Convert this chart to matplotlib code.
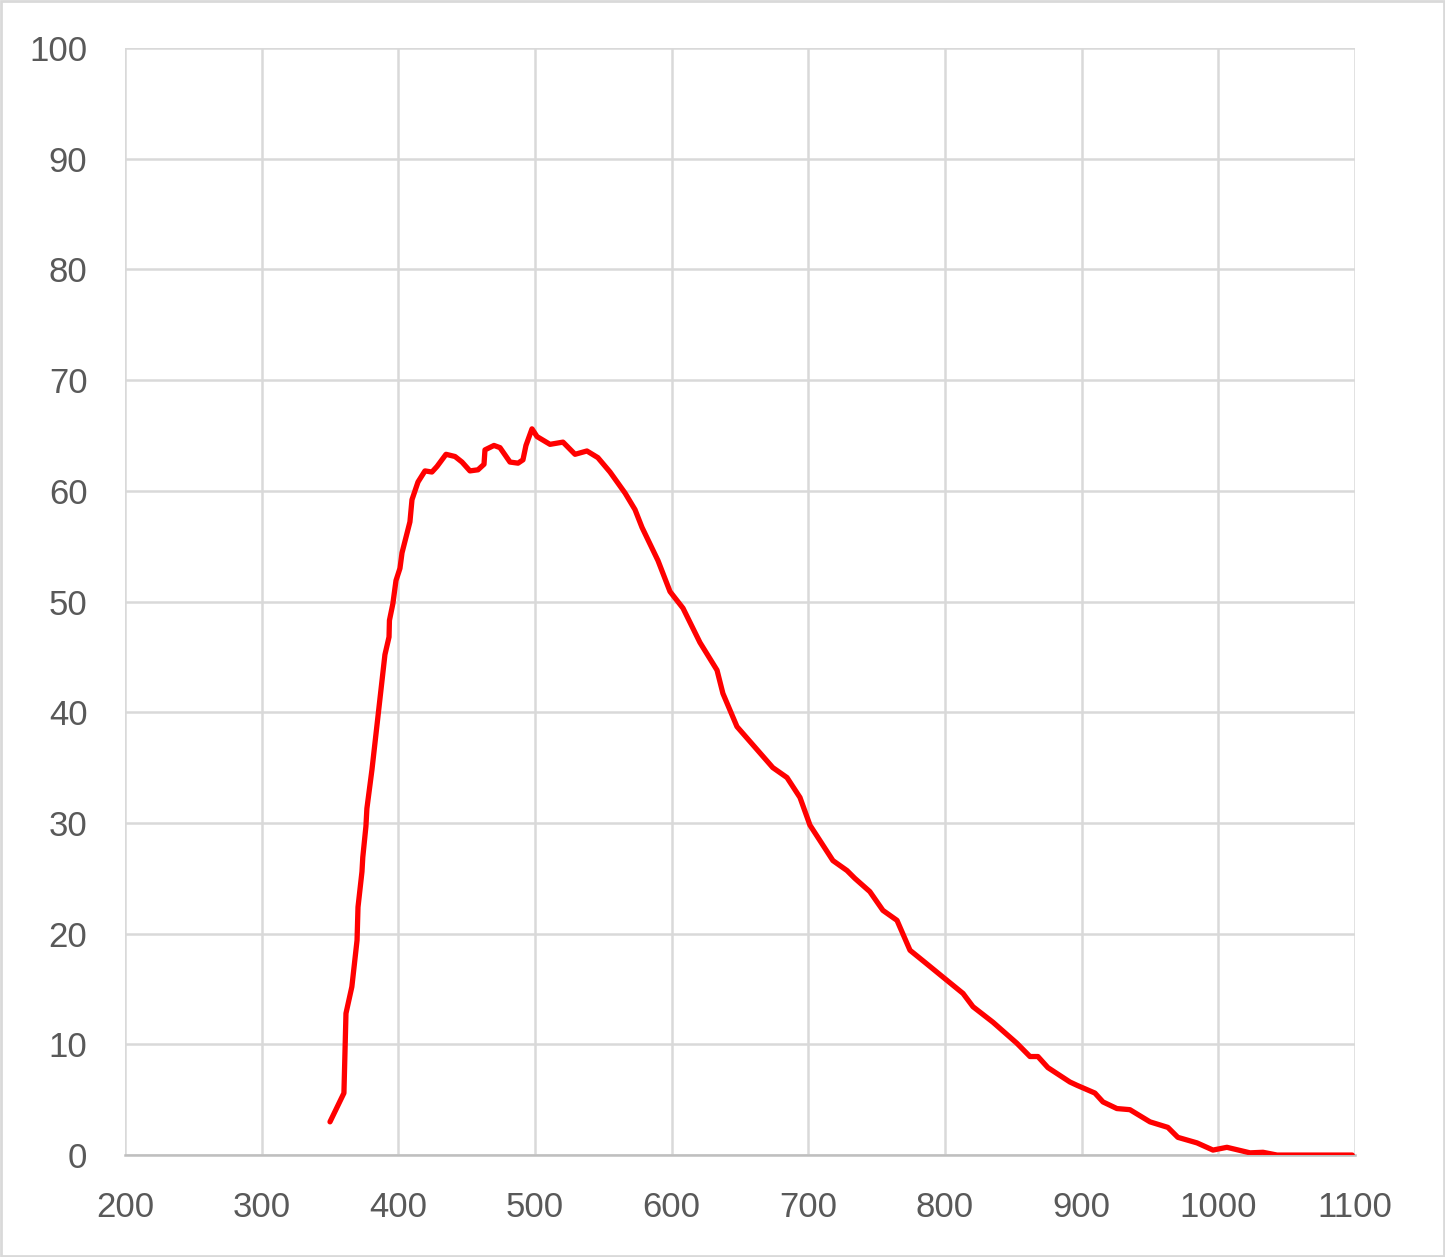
import matplotlib.pyplot as plt
from matplotlib.patches import Rectangle

# wavelength (nm) and response (%)
wavelength = [350, 360.2, 361.7, 366, 369.8, 370.5, 373.4, 374, 376.3, 377, 380.7,
              390.2, 393.2, 393.5, 396, 398.3, 401.2, 402.7, 408.5, 410, 414.4,
              419.5, 424.6, 428.3, 434.9, 441.5, 446.6, 452.4, 458.3, 462.7, 463.4,
              470, 474.4, 481.7, 487.6, 491.2, 493.4, 497.8, 501.5, 511, 520.5,
              529.3, 538, 546, 554.9, 565.9, 573.2, 578.3, 590, 598.8, 608.3,
              620.7, 633.2, 637.5, 647.8, 674, 684.4, 693.9, 701.2, 718, 728.3,
              734, 745, 754.6, 764.9, 774.4, 785.4, 796.3, 813.2, 820.5, 835.1,
              852.6, 862.2, 868, 875.3, 891.4, 896.6, 909.7, 915.6, 925.8, 935.3,
              950, 963.1, 970.4, 984.4, 996.1, 1006.3, 1023.2, 1032.7, 1043, 1052,
              1060, 1098]
response = [3.0, 5.6, 12.8, 15.2, 19.4, 22.4, 25.6, 26.9, 29.7, 31.3, 34.8,
            45.2, 46.8, 48.3, 49.8, 51.9, 53.0, 54.4, 57.2, 59.2, 60.8,
            61.8, 61.7, 62.2, 63.3, 63.1, 62.6, 61.8, 61.9, 62.4, 63.7,
            64.1, 63.9, 62.6, 62.5, 62.8, 64.1, 65.6, 64.9, 64.2, 64.4,
            63.3, 63.6, 63.0, 61.7, 59.8, 58.3, 56.7, 53.7, 50.9, 49.4,
            46.3, 43.8, 41.7, 38.7, 35.0, 34.1, 32.3, 29.8, 26.6, 25.7,
            25.0, 23.8, 22.1, 21.2, 18.5, 17.4, 16.3, 14.6, 13.4, 12.0,
            10.1, 8.9, 8.9, 7.9, 6.6, 6.3, 5.6, 4.8, 4.2, 4.1,
            3.0, 2.5, 1.6, 1.1, 0.45, 0.7, 0.2, 0.25, 0.0, 0.0,
            0.0, 0.0]

x_ticks = list(range(200, 1101, 100))
y_ticks = list(range(0, 101, 10))

plt.rcParams['font.family'] = ['Liberation Sans', 'DejaVu Sans']

fig = plt.figure(figsize=(14.45, 12.57), dpi=100)
ax = fig.add_axes([0.0865, 0.0811, 0.8512, 0.8807])

ax.plot(wavelength, response, color='#ff0000', linewidth=3.8,
        solid_joinstyle='round', solid_capstyle='round', zorder=3)

ax.set_xlim(200, 1100)
ax.set_ylim(0, 100)
ax.set_xticks(x_ticks)
ax.set_yticks(y_ticks)
ax.grid(True, color='#d9d9d9', linewidth=1.8)
ax.set_axisbelow(True)
for side in ['top', 'right', 'left']:
    ax.spines[side].set_visible(False)
ax.spines['bottom'].set_color('#bfbfbf')
ax.spines['bottom'].set_linewidth(1.8)
ax.tick_params(length=0, labelsize=25, labelcolor='#595959')
ax.tick_params(axis='y', pad=27)
ax.tick_params(axis='x', pad=26)

# light border around the whole picture
fig.patches.append(Rectangle((0.001, 0.001), 0.998, 0.998, transform=fig.transFigure,
                             fill=False, edgecolor='#d9d9d9', linewidth=2))

plt.savefig('out.png', dpi=100)
